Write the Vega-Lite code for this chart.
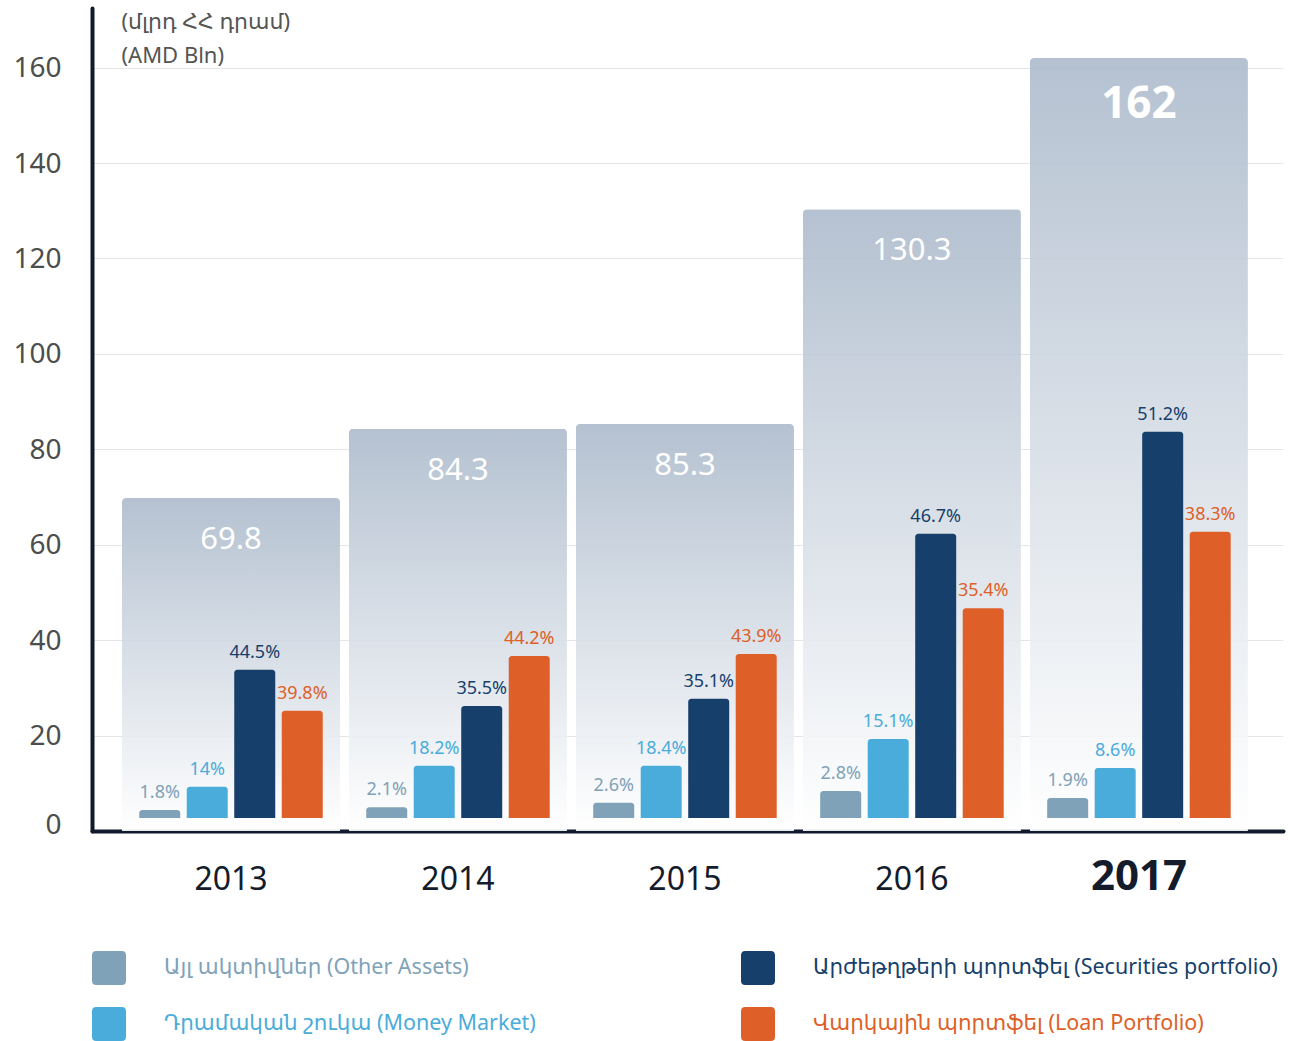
{
  "$schema": "https://vega.github.io/schema/vega-lite/v6.json",
  "width": 1191,
  "height": 823,
  "autosize": {"type": "none"},
  "padding": {"left": 92, "top": 8, "right": 13, "bottom": 210},
  "background": "white",
  "config": {"view": {"stroke": null}, "font": "Noto Sans, DejaVu Sans, sans-serif"},
  "datasets": {
    "totals": [
      {"year": "2013", "total": 69.8},
      {"year": "2014", "total": 84.3},
      {"year": "2015", "total": 85.3},
      {"year": "2016", "total": 130.3},
      {"year": "2017", "total": 162}
    ],
    "parts": [
      {"year": "2013", "cat": "Այլ ակտիվներ (Other Assets)", "value": 4.4, "pct": "1.8%"},
      {"year": "2013", "cat": "Դրամական շուկա (Money Market)", "value": 9.3, "pct": "14%"},
      {"year": "2013", "cat": "Արժեթղթերի պորտֆել (Securities portfolio)", "value": 33.8, "pct": "44.5%"},
      {"year": "2013", "cat": "Վարկային պորտֆել (Loan Portfolio)", "value": 25.2, "pct": "39.8%"},
      {"year": "2014", "cat": "Այլ ակտիվներ (Other Assets)", "value": 5.0, "pct": "2.1%"},
      {"year": "2014", "cat": "Դրամական շուկա (Money Market)", "value": 13.7, "pct": "18.2%"},
      {"year": "2014", "cat": "Արժեթղթերի պորտֆել (Securities portfolio)", "value": 26.2, "pct": "35.5%"},
      {"year": "2014", "cat": "Վարկային պորտֆել (Loan Portfolio)", "value": 36.7, "pct": "44.2%"},
      {"year": "2015", "cat": "Այլ ակտիվներ (Other Assets)", "value": 5.9, "pct": "2.6%"},
      {"year": "2015", "cat": "Դրամական շուկա (Money Market)", "value": 13.7, "pct": "18.4%"},
      {"year": "2015", "cat": "Արժեթղթերի պորտֆել (Securities portfolio)", "value": 27.7, "pct": "35.1%"},
      {"year": "2015", "cat": "Վարկային պորտֆել (Loan Portfolio)", "value": 37.1, "pct": "43.9%"},
      {"year": "2016", "cat": "Այլ ակտիվներ (Other Assets)", "value": 8.4, "pct": "2.8%"},
      {"year": "2016", "cat": "Դրամական շուկա (Money Market)", "value": 19.3, "pct": "15.1%"},
      {"year": "2016", "cat": "Արժեթղթերի պորտֆել (Securities portfolio)", "value": 62.3, "pct": "46.7%"},
      {"year": "2016", "cat": "Վարկային պորտֆել (Loan Portfolio)", "value": 46.7, "pct": "35.4%"},
      {"year": "2017", "cat": "Այլ ակտիվներ (Other Assets)", "value": 6.9, "pct": "1.9%"},
      {"year": "2017", "cat": "Դրամական շուկա (Money Market)", "value": 13.2, "pct": "8.6%"},
      {"year": "2017", "cat": "Արժեթղթերի պորտֆել (Securities portfolio)", "value": 83.7, "pct": "51.2%"},
      {"year": "2017", "cat": "Վարկային պորտֆել (Loan Portfolio)", "value": 62.7, "pct": "38.3%"}
    ]
  },
  "layer": [
    {
      "data": {"name": "totals"},
      "mark": {
        "type": "bar",
        "fill": {"gradient": "linear", "x1": 0, "y1": 0, "x2": 0, "y2": 1,
          "stops": [{"offset": 0, "color": "#adbbcc"}, {"offset": 1, "color": "#ffffff"}]},
        "fillOpacity": 0.9,
        "cornerRadiusTopLeft": 4,
        "cornerRadiusTopRight": 4
      },
      "encoding": {
        "x": {
          "field": "year", "type": "ordinal",
          "scale": {"paddingInner": 0.0396, "paddingOuter": 0.1433, "align": 0.461},
          "axis": {
            "title": null, "ticks": false,
            "domainColor": "#121b2d", "domainWidth": 4, "domainCap": "round",
            "labelAngle": 0, "labelBaseline": "alphabetic", "labelPadding": 58,
            "labelColor": "#141c2c",
            "labelFontSize": {"condition": {"test": "datum.value == '2017'", "value": 42}, "value": 32},
            "labelFontWeight": {"condition": {"test": "datum.value == '2017'", "value": "bold"}, "value": "normal"}
          }
        },
        "y": {
          "field": "total", "type": "quantitative",
          "scale": {"domain": [0, 172.5], "nice": false},
          "axis": {
            "values": [0, 20, 40, 60, 80, 100, 120, 140, 160],
            "ticks": false,
            "grid": true, "gridColor": "#e3e5e9", "gridWidth": 1,
            "domainColor": "#121b2d", "domainWidth": 4, "domainCap": "round",
            "labelFontSize": 28, "labelColor": "#4d4d4d", "labelPadding": 31,
            "labelOffset": {"condition": {"test": "datum.value == 0", "value": -6}, "value": 1},
            "title": ["(մլրդ ՀՀ դրամ)", "(AMD Bln)"],
            "titleAngle": 0, "titleAlign": "left", "titleBaseline": "top",
            "titleX": 29, "titleY": 3,
            "titleFontSize": 22, "titleFontWeight": "normal", "titleColor": "#555555",
            "titleLineHeight": 34
          }
        }
      }
    },
    {
      "data": {"name": "totals"},
      "transform": [{"filter": "datum.year != '2017'"}],
      "mark": {"type": "text", "baseline": "alphabetic", "dy": 51, "fontSize": 31, "color": "#ffffff"},
      "encoding": {
        "x": {"field": "year", "type": "ordinal"},
        "y": {"field": "total", "type": "quantitative"},
        "text": {"field": "total", "type": "quantitative"}
      }
    },
    {
      "data": {"name": "totals"},
      "transform": [{"filter": "datum.year == '2017'"}],
      "mark": {"type": "text", "baseline": "alphabetic", "dy": 60, "fontSize": 44, "fontWeight": "bold", "color": "#ffffff"},
      "encoding": {
        "x": {"field": "year", "type": "ordinal"},
        "y": {"field": "total", "type": "quantitative"},
        "text": {"field": "total", "type": "quantitative"}
      }
    },
    {
      "data": {"name": "parts"},
      "mark": {"type": "bar", "cornerRadiusTopLeft": 3, "cornerRadiusTopRight": 3},
      "encoding": {
        "x": {"field": "year", "type": "ordinal"},
        "xOffset": {
          "field": "cat", "type": "nominal",
          "scale": {
            "domain": ["Այլ ակտիվներ (Other Assets)", "Դրամական շուկա (Money Market)", "Արժեթղթերի պորտֆել (Securities portfolio)", "Վարկային պորտֆել (Loan Portfolio)"],
            "paddingInner": 0.137, "paddingOuter": 0.363
          }
        },
        "y": {"field": "value", "type": "quantitative"},
        "y2": {"datum": 2.7},
        "color": {
          "field": "cat", "type": "nominal",
          "scale": {
            "domain": ["Այլ ակտիվներ (Other Assets)", "Դրամական շուկա (Money Market)", "Արժեթղթերի պորտֆել (Securities portfolio)", "Վարկային պորտֆել (Loan Portfolio)"],
            "range": ["#80a2b8", "#4aacda", "#173f6b", "#de5f28"]
          },
          "legend": {
            "title": null,
            "orient": "none", "legendX": 0, "legendY": 943,
            "columns": 2,
            "symbolType": "M -0.75,-1 L 0.75,-1 Q 1,-1 1,-0.75 L 1,0.75 Q 1,1 0.75,1 L -0.75,1 Q -1,1 -1,0.75 L -1,-0.75 Q -1,-1 -0.75,-1 Z",
            "symbolSize": 1156, "symbolStrokeWidth": 0, "symbolOpacity": 1,
            "labelFontSize": 21.5, "labelOffset": 38, "labelLimit": 800,
            "rowPadding": 22, "columnPadding": 205, "padding": 0,
            "encode": {"labels": {"update": {"fill": {"scale": "color", "field": "value"}}}}
          }
        }
      }
    },
    {
      "data": {"name": "parts"},
      "mark": {"type": "text", "baseline": "alphabetic", "dy": -12, "fontSize": 18},
      "encoding": {
        "x": {"field": "year", "type": "ordinal"},
        "xOffset": {"field": "cat", "type": "nominal"},
        "y": {"field": "value", "type": "quantitative"},
        "text": {"field": "pct", "type": "nominal"},
        "color": {"field": "cat", "type": "nominal"}
      }
    }
  ]
}
